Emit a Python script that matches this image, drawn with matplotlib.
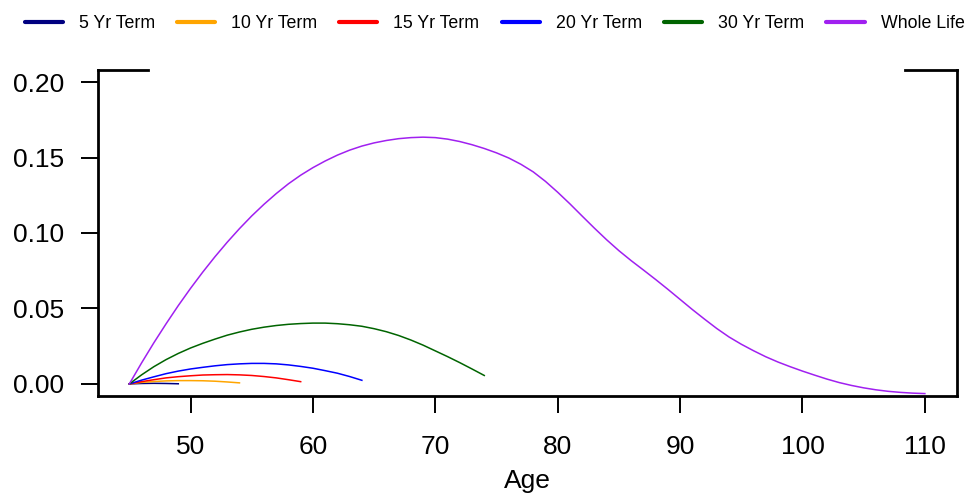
import matplotlib
matplotlib.use("Agg")
import matplotlib.pyplot as plt
import numpy as np

plt.rcParams['font.family'] = ['Liberation Sans', 'DejaVu Sans']

# ---- data ----
labels = ["5 Yr Term", "10 Yr Term", "15 Yr Term", "20 Yr Term", "30 Yr Term", "Whole Life"]
colors = ["#000080", "#FFA500", "#FF0000", "#0000FF", "#006400", "#A020F0"]
start_age = 45

term5 = [0.0, 0.0003, 0.0004, 0.0003, 0.0001]
term10 = [0.0, 0.0010, 0.0016, 0.0020, 0.0022, 0.0022, 0.0021, 0.0018, 0.0013, 0.0007]
term15 = [0.0, 0.0015, 0.0028, 0.0040, 0.0048, 0.0054, 0.0059, 0.0061, 0.0062, 0.0060,
          0.0056, 0.0049, 0.0040, 0.0028, 0.0015]
term20 = [0.0, 0.0025, 0.0047, 0.0068, 0.0085, 0.0099, 0.0110, 0.0120, 0.0128, 0.0133,
          0.0136, 0.0136, 0.0133, 0.0126, 0.0116, 0.0104, 0.0088, 0.0071, 0.0049, 0.0024]
term30 = [0.0, 0.0060, 0.0114, 0.0161, 0.0202, 0.0238, 0.0269, 0.0297, 0.0323, 0.0344,
          0.0362, 0.0376, 0.0387, 0.0395, 0.0400, 0.0403, 0.0403, 0.0399, 0.0392, 0.0382,
          0.0366, 0.0346, 0.0321, 0.0291, 0.0257, 0.0219, 0.0181, 0.0141, 0.0099, 0.0056]
whole_life = [0.0, 0.0139, 0.0272, 0.0398, 0.0519, 0.0633, 0.0741, 0.0843, 0.0939, 0.1029,
              0.1113, 0.1190, 0.1261, 0.1326, 0.1383, 0.1433, 0.1477, 0.1516, 0.1549, 0.1576,
              0.1597, 0.1613, 0.1625, 0.1632, 0.1635, 0.1632, 0.1622, 0.1606, 0.1585, 0.1560,
              0.1531, 0.1497, 0.1455, 0.1405, 0.1342, 0.1270, 0.1193, 0.1112, 0.1032, 0.0955,
              0.0883, 0.0817, 0.0755, 0.0692, 0.0627, 0.0560, 0.0493, 0.0429, 0.0367, 0.0311,
              0.0263, 0.0220, 0.0180, 0.0145, 0.0114, 0.0085, 0.0058, 0.0032, 0.0009, -0.0010,
              -0.0026, -0.0039, -0.0049, -0.0056, -0.0061, -0.0064]
series = [term5, term10, term15, term20, term30, whole_life]

xticks = [50, 60, 70, 80, 90, 100, 110]
yticks = [0.00, 0.05, 0.10, 0.15, 0.20]

# ---- figure ----
fig = plt.figure(figsize=(9.67, 4.93), dpi=100)
L, R, T, B = 97.5, 956.7, 70, 396
W, H = 967, 493
ax = fig.add_axes([L / W, 1 - B / H, (R - L) / W, (B - T) / H])

lines = []
for vals, c, lab in zip(series, colors, labels):
    ages = start_age + np.arange(len(vals))
    ln, = ax.plot(ages, vals, color=c, lw=1.1, label=lab)
    lines.append(ln)

ax.set_xlim(45 - 0.04 * 65, 110 + 0.04 * 65)
ax.set_ylim(-0.008, 0.208)
ax.set_xticks(xticks)
ax.set_yticks(yticks)
ax.set_yticklabels([f"{v:.2f}" for v in yticks])
ax.tick_params(axis='both', labelsize=19, length=12, width=1.4, direction='out', colors='black')
ax.tick_params(axis='x', pad=16)
ax.tick_params(axis='y', pad=12)
ax.set_xlabel("Age", fontsize=19, labelpad=7)

for s in ['left', 'right', 'bottom']:
    ax.spines[s].set_linewidth(2.0)
ax.spines['top'].set_visible(False)
# partial top border (legend gap)
ax.plot([0, 0.0588], [1, 1], transform=ax.transAxes, color='black', lw=2.0,
        clip_on=False, solid_capstyle='projecting')
ax.plot([0.9398, 1], [1, 1], transform=ax.transAxes, color='black', lw=2.0,
        clip_on=False, solid_capstyle='projecting')

leg = fig.legend(handles=lines, labels=labels, ncol=6, loc='center',
                 bbox_to_anchor=(494.5 / W, 1 - 24 / H), frameon=False,
                 fontsize=12.8, handlelength=2.14, handletextpad=0.9,
                 columnspacing=1.25, borderpad=0, borderaxespad=0)
for hl in leg.get_lines():
    hl.set_linewidth(3.0)
    hl.set_solid_capstyle('round')

fig.savefig("out.png", dpi=100)
